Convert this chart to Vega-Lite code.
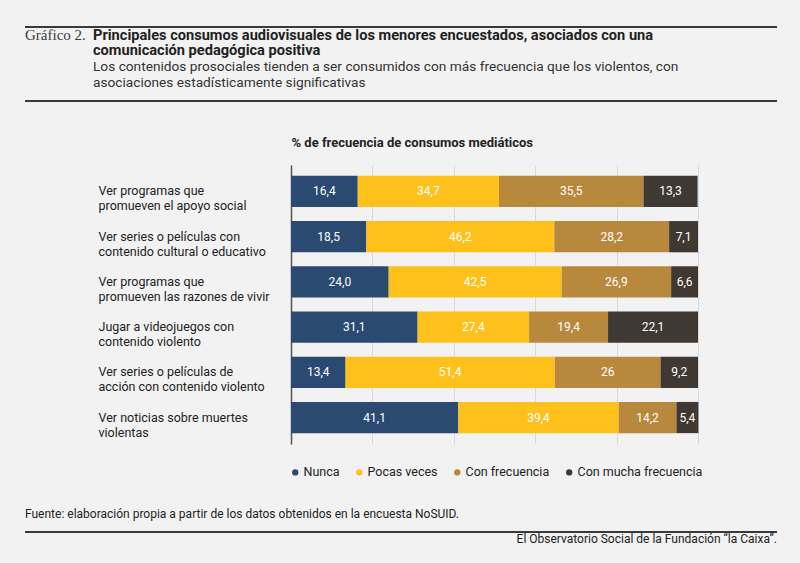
{
  "$schema": "https://vega.github.io/schema/vega-lite/v6.json",
  "background": "#f2f2f2",
  "padding": {"left": 24, "right": 24, "top": 26, "bottom": 11},
  "spacing": 28,
  "config": {
    "font": "Roboto",
    "view": {"stroke": null}
  },
  "resolve": {"scale": {"color": "independent", "x": "independent", "y": "independent"}, "legend": {"color": "independent"}},
  "vconcat": [
    {
      "width": 752,
      "height": 74,
      "view": {"stroke": "#3a3a3a", "strokeWidth": 2, "strokeDash": [752, 74]},
      "data": {"values": [
        {"col": "num", "line": 1, "part": "numero", "text": "Gráfico 2."},
        {"col": "body", "line": 1, "part": "titulo", "text": "Principales consumos audiovisuales de los menores encuestados, asociados con una"},
        {"col": "body", "line": 2, "part": "titulo", "text": "comunicación pedagógica positiva"},
        {"col": "body", "line": 3, "part": "subtitulo", "text": "Los contenidos prosociales tienden a ser consumidos con más frecuencia que los violentos, con"},
        {"col": "body", "line": 4, "part": "subtitulo", "text": "asociaciones estadísticamente significativas"}
      ]},
      "encoding": {
        "x": {"field": "col", "type": "nominal", "axis": null,
              "scale": {"type": "point", "domain": ["num", "body"], "range": [0, 68], "padding": 0}},
        "y": {"field": "line", "type": "ordinal", "axis": null,
              "scale": {"type": "point", "domain": [1, 2, 3, 4], "range": [12.5, 59.5], "padding": 0}},
        "text": {"field": "text"}
      },
      "layer": [
        {"transform": [{"filter": "datum.part === 'numero'"}],
         "mark": {"type": "text", "align": "left", "baseline": "alphabetic", "font": "Liberation Serif", "fontSize": 15, "color": "#3a3a3a"}},
        {"transform": [{"filter": "datum.part === 'titulo'"}],
         "mark": {"type": "text", "align": "left", "baseline": "alphabetic", "fontSize": 14.6, "fontWeight": "bold", "color": "#222"}},
        {"transform": [{"filter": "datum.part === 'subtitulo'"}],
         "mark": {"type": "text", "align": "left", "baseline": "alphabetic", "fontSize": 13.7, "color": "#333"}}
      ]
    },
    {
      "width": 673,
      "height": 279,
      "data": {"values": [
        {"item": "Ver programas que\npromueven el apoyo social", "frecuencia": "Nunca", "k": 1, "valor": 16.4, "label": "16,4"},
        {"item": "Ver programas que\npromueven el apoyo social", "frecuencia": "Pocas veces", "k": 2, "valor": 34.7, "label": "34,7"},
        {"item": "Ver programas que\npromueven el apoyo social", "frecuencia": "Con frecuencia", "k": 3, "valor": 35.5, "label": "35,5"},
        {"item": "Ver programas que\npromueven el apoyo social", "frecuencia": "Con mucha frecuencia", "k": 4, "valor": 13.3, "label": "13,3"},
        {"item": "Ver series o películas con\ncontenido cultural o educativo", "frecuencia": "Nunca", "k": 1, "valor": 18.5, "label": "18,5"},
        {"item": "Ver series o películas con\ncontenido cultural o educativo", "frecuencia": "Pocas veces", "k": 2, "valor": 46.2, "label": "46,2"},
        {"item": "Ver series o películas con\ncontenido cultural o educativo", "frecuencia": "Con frecuencia", "k": 3, "valor": 28.2, "label": "28,2"},
        {"item": "Ver series o películas con\ncontenido cultural o educativo", "frecuencia": "Con mucha frecuencia", "k": 4, "valor": 7.1, "label": "7,1"},
        {"item": "Ver programas que\npromueven las razones de vivir", "frecuencia": "Nunca", "k": 1, "valor": 24.0, "label": "24,0"},
        {"item": "Ver programas que\npromueven las razones de vivir", "frecuencia": "Pocas veces", "k": 2, "valor": 42.5, "label": "42,5"},
        {"item": "Ver programas que\npromueven las razones de vivir", "frecuencia": "Con frecuencia", "k": 3, "valor": 26.9, "label": "26,9"},
        {"item": "Ver programas que\npromueven las razones de vivir", "frecuencia": "Con mucha frecuencia", "k": 4, "valor": 6.6, "label": "6,6"},
        {"item": "Jugar a videojuegos con\ncontenido violento", "frecuencia": "Nunca", "k": 1, "valor": 31.1, "label": "31,1"},
        {"item": "Jugar a videojuegos con\ncontenido violento", "frecuencia": "Pocas veces", "k": 2, "valor": 27.4, "label": "27,4"},
        {"item": "Jugar a videojuegos con\ncontenido violento", "frecuencia": "Con frecuencia", "k": 3, "valor": 19.4, "label": "19,4"},
        {"item": "Jugar a videojuegos con\ncontenido violento", "frecuencia": "Con mucha frecuencia", "k": 4, "valor": 22.1, "label": "22,1"},
        {"item": "Ver series o películas de\nacción con contenido violento", "frecuencia": "Nunca", "k": 1, "valor": 13.4, "label": "13,4"},
        {"item": "Ver series o películas de\nacción con contenido violento", "frecuencia": "Pocas veces", "k": 2, "valor": 51.4, "label": "51,4"},
        {"item": "Ver series o películas de\nacción con contenido violento", "frecuencia": "Con frecuencia", "k": 3, "valor": 26, "label": "26"},
        {"item": "Ver series o películas de\nacción con contenido violento", "frecuencia": "Con mucha frecuencia", "k": 4, "valor": 9.2, "label": "9,2"},
        {"item": "Ver noticias sobre muertes\nviolentas", "frecuencia": "Nunca", "k": 1, "valor": 41.1, "label": "41,1"},
        {"item": "Ver noticias sobre muertes\nviolentas", "frecuencia": "Pocas veces", "k": 2, "valor": 39.4, "label": "39,4"},
        {"item": "Ver noticias sobre muertes\nviolentas", "frecuencia": "Con frecuencia", "k": 3, "valor": 14.2, "label": "14,2"},
        {"item": "Ver noticias sobre muertes\nviolentas", "frecuencia": "Con mucha frecuencia", "k": 4, "valor": 5.4, "label": "5,4"}
      ]},
      "encoding": {
        "y": {"field": "item", "type": "nominal", "sort": null,
              "scale": {"paddingInner": 0.31, "paddingOuter": 0.24},
              "axis": {"title": null, "ticks": false, "tickSize": 0, "offset": -266, "labelAlign": "left", "labelBaseline": "middle",
                       "labelPadding": 193, "labelLimit": 260, "labelFontSize": 12.5, "labelColor": "#222", "labelLineHeight": 15,
                       "labelExpr": "split(datum.value, '\\n')", "domainColor": "#555", "domainWidth": 1.5, "grid": false}},
        "x": {"field": "valor", "type": "quantitative", "stack": "zero",
              "scale": {"domain": [0, 100], "nice": false, "range": [266, 673]},
              "axis": {"orient": "top", "values": [0, 20, 40, 60, 80, 100], "labels": false, "ticks": false, "domain": false,
                       "grid": true, "gridColor": "#d9d9d9", "gridWidth": 1,
                       "title": ["", "% de frecuencia de consumos mediáticos"], "titleLineHeight": 6,
                       "titleX": 266, "titleAlign": "left", "titleFontSize": 13,
                       "titleFontWeight": "bold", "titleColor": "#222", "titlePadding": 16}},
        "order": {"field": "k", "type": "quantitative"}
      },
      "layer": [
        {
          "mark": {"type": "bar"},
          "encoding": {
            "color": {"field": "frecuencia", "type": "nominal",
                      "scale": {"domain": ["Nunca", "Pocas veces", "Con frecuencia", "Con mucha frecuencia"],
                                "range": ["#2a4a72", "#fec11b", "#b8893c", "#403833"]},
                      "legend": {"title": null, "orient": "none", "legendX": 264, "legendY": 301, "direction": "horizontal", "symbolType": "circle",
                                 "symbolSize": 40, "labelFontSize": 12.5, "labelColor": "#222", "columnPadding": 13,
                                 "labelOffset": 2}}
          }
        },
        {
          "mark": {"type": "text", "color": "white", "fontSize": 12, "baseline": "middle", "align": "center"},
          "encoding": {
            "x": {"field": "valor", "type": "quantitative", "stack": "zero", "bandPosition": 0.5},
            "text": {"field": "label"}
          }
        }
      ]
    },
    {
      "width": 752,
      "height": 20,
      "view": {"stroke": "#3a3a3a", "strokeWidth": 2, "strokeDash": [752, 2000]},
      "data": {"values": [
        {"col": "izquierda", "line": "fuente", "text": "Fuente: elaboración propia a partir de los datos obtenidos en la encuesta NoSUID."},
        {"col": "derecha", "line": "credito", "text": "El Observatorio Social de la Fundación “la Caixa”."}
      ]},
      "encoding": {
        "x": {"field": "col", "type": "nominal", "axis": null,
              "scale": {"type": "point", "domain": ["izquierda", "derecha"], "range": [0, 752], "padding": 0}},
        "y": {"field": "line", "type": "nominal", "axis": null,
              "scale": {"type": "point", "domain": ["fuente", "credito"], "range": [-14, 11], "padding": 0}},
        "text": {"field": "text"}
      },
      "layer": [
        {"transform": [{"filter": "datum.col === 'izquierda'"}],
         "mark": {"type": "text", "align": "left", "baseline": "alphabetic", "fontSize": 12, "color": "#222"}},
        {"transform": [{"filter": "datum.col === 'derecha'"}],
         "mark": {"type": "text", "align": "right", "baseline": "alphabetic", "fontSize": 12, "color": "#222"}}
      ]
    }
  ]
}
